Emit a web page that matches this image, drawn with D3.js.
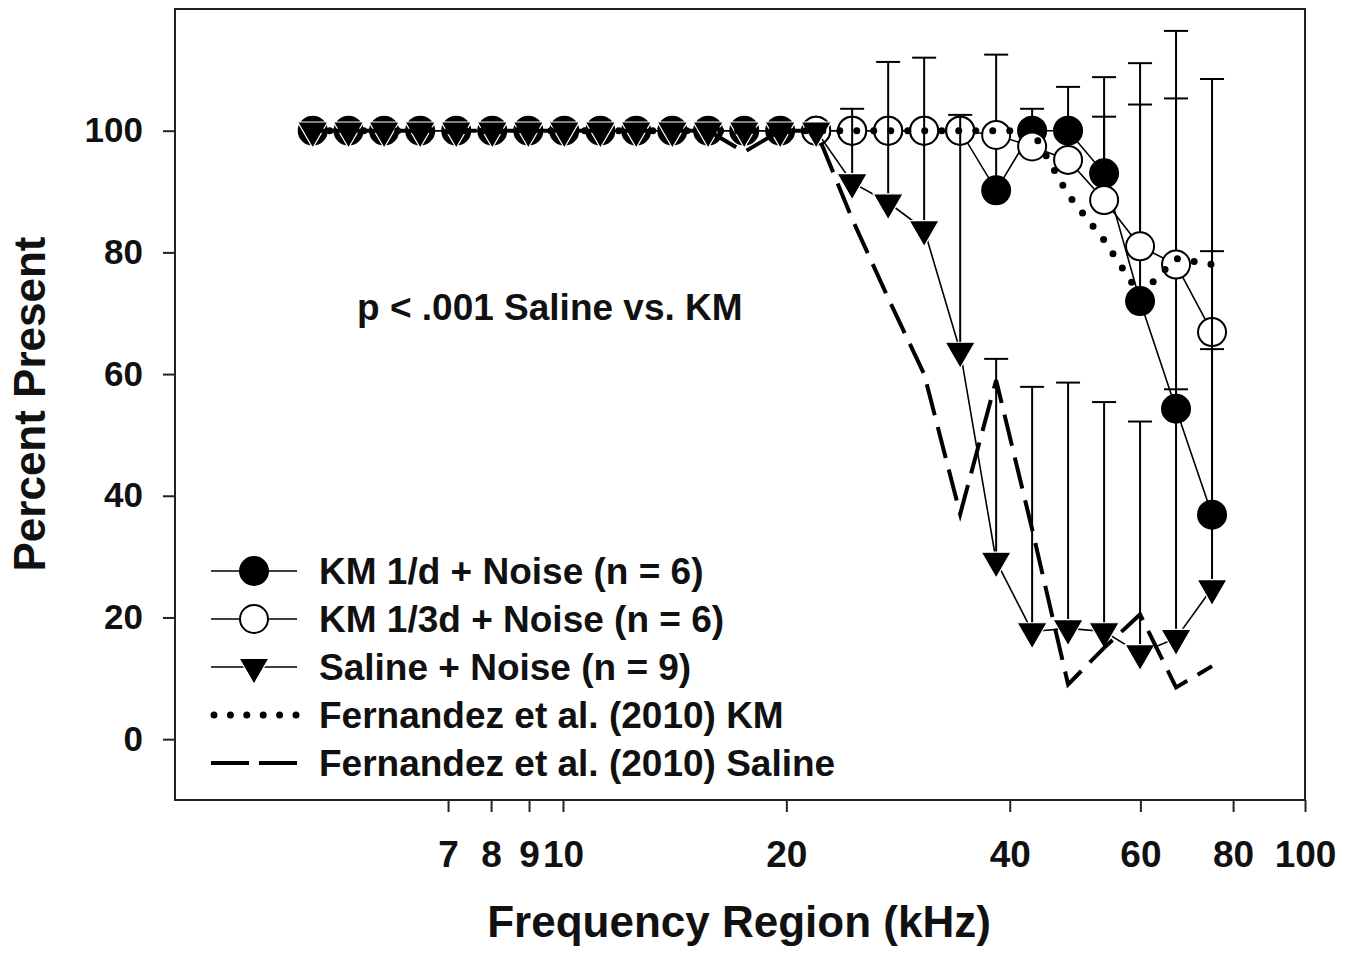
<!DOCTYPE html>
<html>
<head>
<meta charset="utf-8">
<script src="https://cdn.jsdelivr.net/npm/d3@7"></script>
<style>
  body { margin: 0; background: #fff; }
  svg { display: block; font-family: "Liberation Sans", Arial, sans-serif; font-weight: bold; }
</style>
</head>
<body>
<svg id="chart" width="1357" height="955"></svg>
<script>
// frequency regions (kHz) sampled along the cochlea
const freqs = [4.6, 5.14, 5.74, 6.42, 7.18, 8.03, 8.98, 10.04, 11.23, 12.55, 14.04, 15.69, 17.55,
  19.62, 21.94, 24.53, 27.43, 30.67, 34.3, 38.35, 42.88, 47.94, 53.61, 59.94, 67.02, 74.94];

const km1d = [100, 100, 100, 100, 100, 100, 100, 100, 100, 100, 100, 100, 100,
  100, 100, 100, 100, 100, 100, 90.2, 100, 100, 93, 72, 54.3, 36.9];
const km1dSD = [0, 0, 0, 0, 0, 0, 0, 0, 0, 0, 0, 0, 0,
  0, 0, 0, 0, 0, 0, 22.3, 0, 0, 15.8, 32.3, 51, 27.2];

// 1/3d group only visible from ~22 kHz up
const km13d = [null, null, null, null, null, null, null, null, null, null, null, null, null,
  null, 100, 100, 100, 100, 100, 99.3, 97.4, 95.2, 88.6, 81, 78, 66.9];
const km13dSD = [0, 0, 0, 0, 0, 0, 0, 0, 0, 0, 0, 0, 0,
  0, 0, 0, 0, 0, 0, 0, 6.2, 12, 13.7, 30.1, 38.4, 13.3];

const saline = [100, 100, 100, 100, 100, 100, 100, 100, 100, 100, 100, 100, 100,
  100, 100, 91.5, 88.2, 83.8, 63.8, 29.3, 17.7, 18.2, 17.7, 14.1, 16.6, 24.8];
const salineSD = [0, 0, 0, 0, 0, 0, 0, 0, 0, 0, 0, 0, 0,
  0, 0, 12.1, 23.1, 28.2, 38.8, 33.2, 40.2, 40.4, 37.7, 38.1, 40.9, 83.7];

// Fernandez et al. (2010) reference curves
const fernKM = [100, 100, 100, 100, 100, 100, 100, 100, 100, 100, 100, 100, 100,
  100, 100, 100, 100, 100, 100, 100, 100, 89.5, 82, 73, 79, 78];
const fernSaline = [100, 100, 100, 100, 100, 100, 100, 100, 100, 100, 100, 100, 96.5,
  100, 100, 85.5, 72.5, 60, 37, 59, 34.5, 9, 15, 20.5, 8.5, 12];

const xTicks = [7, 8, 9, 10, 20, 40, 60, 80, 100];
const yTicks = [0, 20, 40, 60, 80, 100];

const legendLabels = [
  "KM 1/d + Noise (n = 6)",
  "KM 1/3d + Noise (n = 6)",
  "Saline + Noise (n = 9)",
  "Fernandez et al. (2010) KM",
  "Fernandez et al. (2010) Saline",
];

const svg = d3.select("#chart");
const x = d3.scaleLog().domain([3, 100]).range([175, 1305]);
const y = d3.scaleLinear().domain([-10, 120]).range([800, 9]);

const triangle = "M-15,-8.7L15,-8.7L0,17.3Z";

// x axis
const gx = svg.append("g")
  .attr("transform", "translate(0,800)")
  .call(d3.axisBottom(x).tickValues(xTicks).tickFormat(d3.format("d")).tickSize(12).tickPadding(29));
gx.select(".domain").remove();
gx.selectAll(".tick line").attr("stroke", "#222").attr("stroke-width", 2);
gx.selectAll(".tick text")
  .attr("fill", "#111")
  .attr("font-size", 37)
  .attr("font-weight", "bold")
  .attr("font-family", "Liberation Sans, Arial, sans-serif");

// y axis
const gy = svg.append("g")
  .attr("transform", "translate(175,0)")
  .call(d3.axisLeft(y).tickValues(yTicks).tickSize(12).tickPadding(20));
gy.select(".domain").remove();
gy.selectAll(".tick line").attr("stroke", "#222").attr("stroke-width", 2);
gy.selectAll(".tick text")
  .attr("fill", "#111")
  .attr("font-size", 35)
  .attr("font-weight", "bold")
  .attr("font-family", "Liberation Sans, Arial, sans-serif");

// frame
svg.append("rect")
  .attr("x", x.range()[0])
  .attr("y", y.range()[1])
  .attr("width", x.range()[1] - x.range()[0])
  .attr("height", y.range()[0] - y.range()[1])
  .attr("fill", "none")
  .attr("stroke", "#222")
  .attr("stroke-width", 2);

const line = d3.line()
  .defined((d) => d != null)
  .x((d, i) => x(freqs[i]))
  .y((d) => y(d));

function drawSeries(values, sd, kind) {
  const g = svg.append("g");
  g.append("path")
    .attr("d", line(values))
    .attr("fill", "none")
    .attr("stroke", "#000")
    .attr("stroke-width", 1.6);

  const all = values.map((v, i) => ({ i, v, s: sd[i] })).filter((d) => d.v != null);
  const bars = all.filter((d) => d.s > 0);
  g.selectAll("line.bar")
    .data(bars)
    .join("line")
    .attr("x1", (d) => x(freqs[d.i]))
    .attr("x2", (d) => x(freqs[d.i]))
    .attr("y1", (d) => y(d.v))
    .attr("y2", (d) => y(d.v + d.s))
    .attr("stroke", "#000")
    .attr("stroke-width", 2);
  g.selectAll("line.cap")
    .data(bars)
    .join("line")
    .attr("x1", (d) => x(freqs[d.i]) - 12)
    .attr("x2", (d) => x(freqs[d.i]) + 12)
    .attr("y1", (d) => y(d.v + d.s))
    .attr("y2", (d) => y(d.v + d.s))
    .attr("stroke", "#000")
    .attr("stroke-width", 2);

  const pts = g.selectAll(".pt")
    .data(all)
    .join(kind === "triangle" ? "path" : "circle")
    .attr("class", "pt");
  drawMarker(pts, kind)
    .attr("transform", (d) => `translate(${x(freqs[d.i])},${y(d.v)})`);
}

function drawMarker(sel, kind) {
  if (kind === "triangle") {
    return sel.attr("d", triangle)
      .attr("fill", "#000")
      .attr("stroke", "#fff")
      .attr("stroke-width", 1.2);
  }
  return sel
    .attr("r", 14)
    .attr("fill", kind === "open" ? "#fff" : "#000")
    .attr("stroke", "#000")
    .attr("stroke-width", 2);
}

drawSeries(km1d, km1dSD, "filled");
drawSeries(km13d, km13dSD, "open");
drawSeries(saline, salineSD, "triangle");

// reference curves
svg.append("path")
  .attr("d", line(fernKM))
  .attr("fill", "none")
  .attr("stroke", "#000")
  .attr("stroke-width", 7)
  .attr("stroke-linecap", "round")
  .attr("stroke-dasharray", "0,17");

svg.append("path")
  .attr("d", line(fernSaline))
  .attr("fill", "none")
  .attr("stroke", "#000")
  .attr("stroke-width", 4)
  .attr("stroke-dasharray", "32,12");

// annotation
svg.append("text")
  .attr("x", 357)
  .attr("y", 320)
  .attr("font-size", 37)
  .attr("fill", "#111")
  .text("p < .001 Saline vs. KM");

// legend
const legend = svg.append("g").attr("transform", "translate(211,571)");
const rows = legend.selectAll("g")
  .data(legendLabels)
  .join("g")
  .attr("transform", (d, i) => `translate(0,${i * 48})`);

rows.each(function (d, i) {
  const r = d3.select(this);
  if (i < 3) {
    r.append("line")
      .attr("x1", 0).attr("x2", 86)
      .attr("stroke", "#000").attr("stroke-width", 1.6);
    const kind = ["filled", "open", "triangle"][i];
    const m = r.append(kind === "triangle" ? "path" : "circle");
    drawMarker(m, kind).attr("transform", "translate(43,0)");
  } else if (i === 3) {
    r.append("line")
      .attr("x1", 3).attr("x2", 86)
      .attr("stroke", "#000").attr("stroke-width", 7)
      .attr("stroke-linecap", "round")
      .attr("stroke-dasharray", "0,16.4");
  } else {
    r.append("line")
      .attr("x1", 0).attr("x2", 86)
      .attr("stroke", "#000").attr("stroke-width", 4)
      .attr("stroke-dasharray", "38,10");
  }
  r.append("text")
    .attr("x", 108)
    .attr("y", 13)
    .attr("font-size", 37)
    .attr("fill", "#111")
    .text(d);
});

// axis titles
svg.append("text")
  .attr("x", 739)
  .attr("y", 937)
  .attr("text-anchor", "middle")
  .attr("font-size", 44)
  .attr("fill", "#111")
  .text("Frequency Region (kHz)");

svg.append("text")
  .attr("transform", "translate(45,404) rotate(-90)")
  .attr("text-anchor", "middle")
  .attr("font-size", 44)
  .attr("fill", "#111")
  .text("Percent Present");
</script>
</body>
</html>
